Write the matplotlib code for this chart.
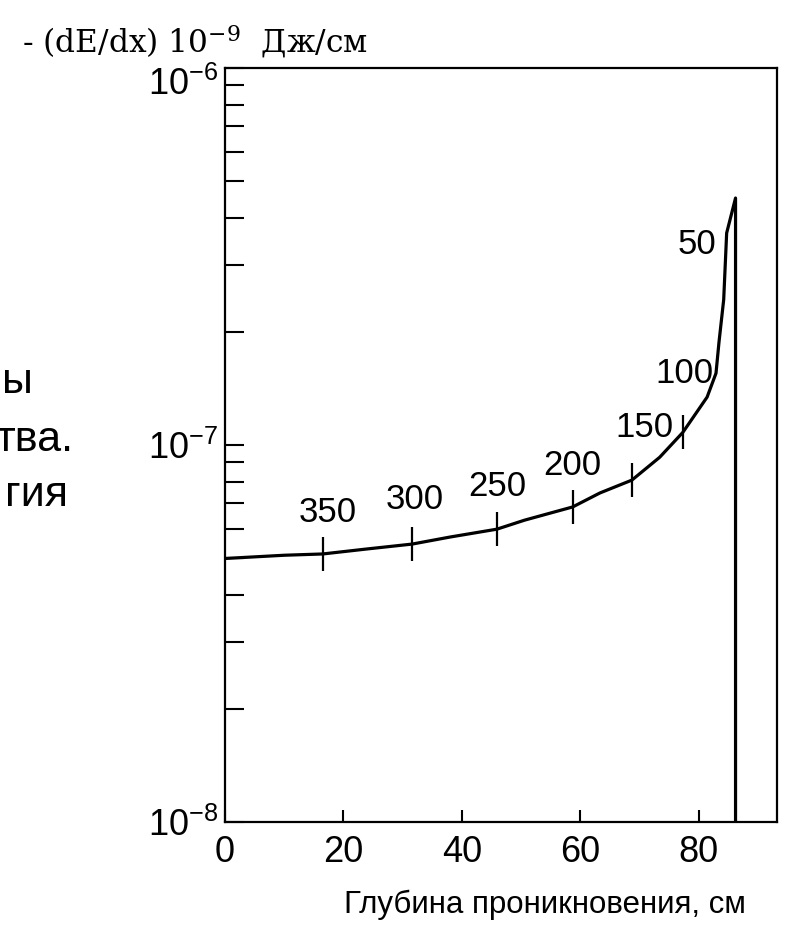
import matplotlib
matplotlib.use("Agg")
import matplotlib.pyplot as plt
from matplotlib.ticker import FixedLocator, LogLocator, NullFormatter
from matplotlib.transforms import ScaledTranslation

plt.rcParams['font.family'] = ['Liberation Sans', 'DejaVu Sans']

# curve: depth (cm) vs -(dE/dx)
depth = [0, 5, 10, 16.5, 24, 31.6, 38, 45.9, 50.6, 58.7, 63.3, 68.7, 73.4,
         77.3, 81.4, 82.9, 83.4, 84.2, 84.7, 86.2, 86.2]
dedx = [5.0e-8, 5.05e-8, 5.1e-8, 5.14e-8, 5.3e-8, 5.46e-8, 5.7e-8, 5.98e-8,
        6.32e-8, 6.85e-8, 7.46e-8, 8.07e-8, 9.28e-8, 1.08e-7, 1.34e-7,
        1.55e-7, 1.87e-7, 2.43e-7, 3.65e-7, 4.52e-7, 1e-8]

# energy marks on the curve
mark_depth = [16.5, 31.6, 45.9, 58.7, 68.7, 77.3]
mark_dedx = [5.14e-8, 5.46e-8, 5.98e-8, 6.85e-8, 8.07e-8, 1.08e-7]

# energy labels and where they sit
energy_labels = ["350", "300", "250", "200", "150", "100", "50"]
label_x = [17.4, 32.1, 45.9, 58.7, 70.9, 77.5, 79.7]
label_y = [6.64e-8, 7.15e-8, 7.78e-8, 8.85e-8, 1.11e-7, 1.55e-7, 3.40e-7]

x_ticks = [0, 20, 40, 60, 80]
y_ticks = [1e-8, 1e-7, 1e-6]
y_ticklabels = [r"$\mathregular{10^{-8}}$", r"$\mathregular{10^{-7}}$",
                r"$\mathregular{10^{-6}}$"]

fig = plt.figure(figsize=(7.85, 9.27), dpi=100)
ax = fig.add_axes([225 / 785, 1 - 822 / 927, 552 / 785, 754 / 927])

ax.plot(depth, dedx, color="black", lw=2.3, solid_joinstyle="round")
ax.plot(mark_depth, mark_dedx, ls="none", marker="|", ms=25, mew=1.6,
        color="black")
for t, x, y in zip(energy_labels, label_x, label_y):
    ax.text(x, y, t, ha="center", va="center", fontsize=25)

ax.set_yscale("log")
ax.set_xlim(0, 93.2)
ax.set_ylim(1e-8, 1e-6)
ax.xaxis.set_major_locator(FixedLocator(x_ticks))
ax.set_xticklabels([str(v) for v in x_ticks])
ax.yaxis.set_major_locator(FixedLocator(y_ticks))
ax.set_yticklabels(y_ticklabels)
ax.yaxis.set_minor_locator(LogLocator(base=10, subs=range(2, 10)))
ax.yaxis.set_minor_formatter(NullFormatter())

ax.tick_params(axis="x", direction="in", length=9, width=1.5, labelsize=26,
               pad=9, top=False)
ax.tick_params(axis="y", which="both", direction="in", length=14, width=1.5,
               labelsize=26, pad=5, right=False)
for s in ax.spines.values():
    s.set_linewidth(1.6)

# top label sits a bit lower than its tick in the original
top_lab = ax.get_yticklabels()[-1]
top_lab.set_transform(top_lab.get_transform()
                      + ScaledTranslation(0, -0.13, fig.dpi_scale_trans))

ax.set_xlabel("Глубина проникновения, см", fontsize=22.5)
ax.xaxis.set_label_coords(0.58, -0.09)
ax.xaxis.label.set_va("top")

fig.text(22 / 785, 1 - 53 / 927,
         r"- (dE/dx) $\mathregular{10^{-9}}$  Дж/см",
         family=["DejaVu Serif"], fontsize=22.5, va="baseline", ha="left")

# cut-off words from the neighbouring text column
for t, xr, yc in zip(["ы", "тва.", "гия"], [33, 73, 68], [382, 440, 495]):
    fig.text(xr / 785, 1 - yc / 927, t, ha="right", va="center", fontsize=31)

fig.savefig("out.png", dpi=100)
